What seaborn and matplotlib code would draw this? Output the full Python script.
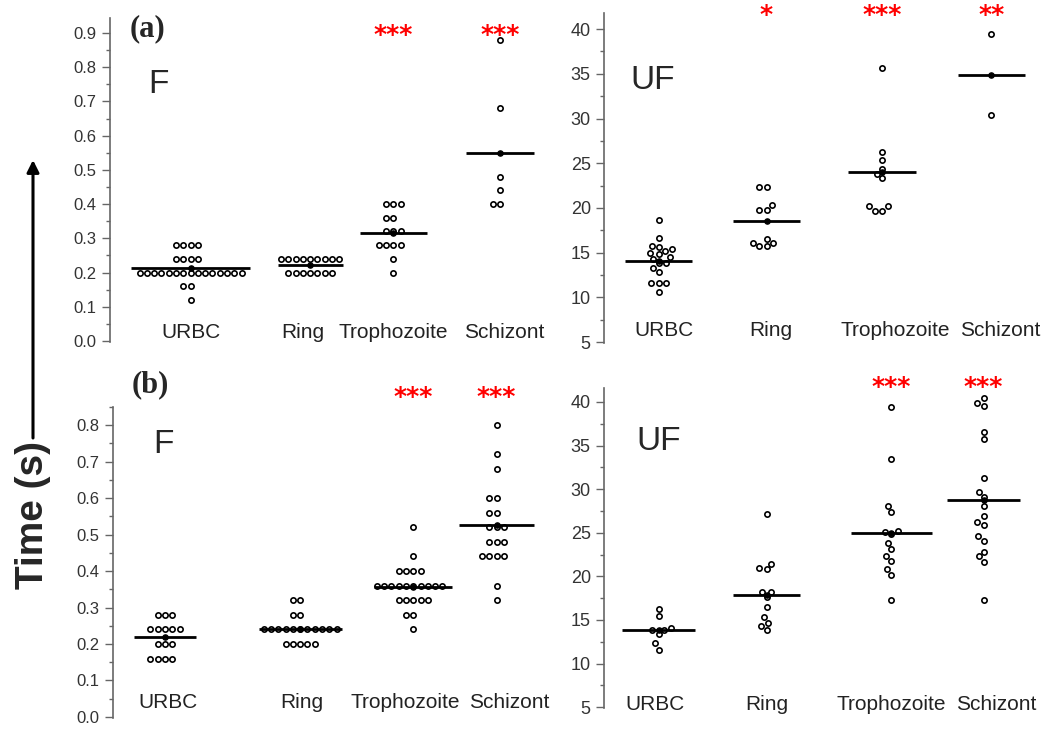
import numpy as np
import pandas as pd
import seaborn as sns
import matplotlib.pyplot as plt
from matplotlib.ticker import MultipleLocator, FormatStrFormatter

sns.set_theme(style="ticks")
plt.rcParams["font.family"] = ["Liberation Sans", "DejaVu Sans"]

W, H = 1041, 730

stages = ["URBC", "Ring", "Trophozoite", "Schizont"]

# (a) F, time in s
a_f_urbc = [0.28, 0.28, 0.28, 0.28, 0.24, 0.24, 0.24, 0.24,
            0.20, 0.20, 0.20, 0.20, 0.20, 0.20, 0.20, 0.20, 0.20, 0.20,
            0.20, 0.20, 0.20, 0.20, 0.20, 0.16, 0.16, 0.12]
a_f_ring = [0.24, 0.24, 0.24, 0.24, 0.24, 0.24, 0.24, 0.24, 0.24,
            0.20, 0.20, 0.20, 0.20, 0.20, 0.20, 0.20]
a_f_troph = [0.40, 0.40, 0.40, 0.36, 0.36, 0.32, 0.32, 0.32,
             0.28, 0.28, 0.28, 0.28, 0.24, 0.20]
a_f_schiz = [0.88, 0.68, 0.48, 0.44, 0.40, 0.40]
a_f_center = [0.212, 0.222, 0.316, 0.548]
a_f_stars = ["", "", "***", "***"]

# (a) UF
a_uf_urbc = [18.7, 16.6, 15.8, 15.6, 15.4, 15.2, 15.0, 14.8, 14.5, 14.3,
             13.9, 13.8, 13.3, 12.8, 11.6, 11.6, 11.6, 10.6]
a_uf_ring = [22.3, 22.3, 20.3, 19.8, 19.8, 16.5, 16.1, 16.1, 15.7, 15.7]
a_uf_troph = [35.7, 26.3, 25.4, 24.4, 23.8, 23.3, 20.2, 20.2, 19.7, 19.7]
a_uf_schiz = [39.5, 30.4]
a_uf_center = [14.1, 18.5, 24.0, 34.9]
a_uf_stars = ["", "*", "***", "**"]

# (b) F
b_f_urbc = [0.28, 0.28, 0.28, 0.24, 0.24, 0.24, 0.24, 0.24,
            0.20, 0.20, 0.20, 0.16, 0.16, 0.16, 0.16]
b_f_ring = [0.32, 0.32, 0.28, 0.28, 0.24, 0.24, 0.24, 0.24, 0.24, 0.24,
            0.24, 0.24, 0.24, 0.24, 0.24, 0.20, 0.20, 0.20, 0.20, 0.20]
b_f_troph = [0.52, 0.44, 0.40, 0.40, 0.40, 0.40, 0.36, 0.36, 0.36, 0.36,
             0.36, 0.36, 0.36, 0.36, 0.36, 0.36, 0.32, 0.32, 0.32, 0.32,
             0.32, 0.28, 0.28, 0.24]
b_f_schiz = [0.80, 0.72, 0.68, 0.60, 0.60, 0.56, 0.56, 0.52, 0.52, 0.52,
             0.48, 0.48, 0.48, 0.44, 0.44, 0.44, 0.44, 0.36, 0.32]
b_f_center = [0.219, 0.242, 0.357, 0.526]
b_f_stars = ["", "", "***", "***"]

# (b) UF
b_uf_urbc = [16.3, 15.5, 14.1, 13.9, 13.8, 13.4, 12.3, 11.6]
b_uf_ring = [27.1, 21.4, 20.9, 20.8, 18.2, 18.2, 17.6, 16.5, 15.3, 14.6,
             14.3, 13.8]
b_uf_troph = [39.4, 33.4, 28.1, 27.4, 25.2, 25.1, 24.8, 23.8, 23.1, 22.3,
              21.8, 20.8, 20.2, 17.3]
b_uf_schiz = [40.4, 39.9, 39.5, 36.6, 35.7, 31.3, 29.7, 29.1, 28.1, 26.9,
              26.2, 25.9, 24.6, 24.1, 22.8, 22.3, 21.7, 17.3]
b_uf_center = [13.9, 17.9, 25.0, 28.8]
b_uf_stars = ["", "", "***", "***"]

PX = 130.0  # pixels per x unit


def to_frame(groups):
    rows = []
    for st, vals in zip(stages, groups):
        rows += [(st, v) for v in vals]
    return pd.DataFrame(rows, columns=["stage", "time"])


def draw_panel(ax, groups, centers, stars, cfg):
    df = to_frame(groups)
    df["x"] = df["stage"].map(dict(zip(stages, cfg["pos"])))
    for st, sub in df.groupby("stage", sort=False):
        sns.swarmplot(data=sub, x="x", y="time", native_scale=True, orient="x",
                      ax=ax, size=3.8, color="white", edgecolor="black",
                      linewidth=1.2, warn_thresh=1)
    pos = np.array(cfg["pos"])
    half = np.array(cfg["half"])
    ax.hlines(centers, pos - half, pos + half, colors="black", lw=2, zorder=3)
    ax.scatter(pos, centers, s=14, color="black", zorder=4)

    ax.set_xlim(0, cfg["width"] / PX)
    ax.set_ylim(*cfg["ylim"])
    ax.set_xlabel("")
    ax.set_ylabel("")
    ax.set_xticks(cfg["lab"], stages)
    ax.tick_params(axis="x", length=0, pad=cfg["pad"], labelsize=15,
                   labelcolor="#222222")
    ax.yaxis.set_major_locator(MultipleLocator(cfg["major"]))
    ax.yaxis.set_minor_locator(MultipleLocator(cfg["major"] / 2))
    if cfg["fmt"]:
        ax.yaxis.set_major_formatter(FormatStrFormatter(cfg["fmt"]))
    ax.tick_params(axis="y", which="major", length=6, width=1, color="#666666",
                   labelsize=cfg["ysize"], labelcolor="#333333")
    ax.tick_params(axis="y", which="minor", length=3, width=1, color="#666666")
    sns.despine(ax=ax, bottom=True)
    ax.spines["left"].set_color("#666666")
    ax.spines["left"].set_linewidth(1.2)
    ax.set_facecolor("white")

    for p, s in zip(pos, stars):
        ax.text(p, cfg["star_y"], s, transform=ax.get_xaxis_transform(),
                ha="center", va="baseline", color="red", fontsize=18,
                fontweight="bold", family="DejaVu Sans", clip_on=False)


def px_box(left, top, right, bottom):
    return [left / W, 1 - bottom / H, (right - left) / W, (bottom - top) / H]


fig = plt.figure(figsize=(W / 100, H / 100), dpi=100)
fig.patch.set_facecolor("white")

panels = [
    (px_box(110, 18, 550, 342), [a_f_urbc, a_f_ring, a_f_troph, a_f_schiz],
     a_f_center, a_f_stars,
     dict(pos=[0.62, 1.54, 2.18, 3.0], lab=[0.62, 1.48, 2.18, 3.03],
          half=[0.46, 0.25, 0.26, 0.26],
          width=440, ylim=(-0.003, 0.944), major=0.1, fmt="%.1f", ysize=12,
          pad=-14, star_y=0.926)),
    (px_box(604, 13, 1035, 343), [a_uf_urbc, a_uf_ring, a_uf_troph, a_uf_schiz],
     a_uf_center, a_uf_stars,
     dict(pos=[0.42, 1.25, 2.14, 2.98], lab=[0.46, 1.28, 2.24, 3.05],
          half=[0.26, 0.26, 0.26, 0.26],
          width=431, ylim=(4.9, 41.8), major=5, fmt=None, ysize=13,
          pad=-16, star_y=0.972)),
    (px_box(113, 407, 555, 718), [b_f_urbc, b_f_ring, b_f_troph, b_f_schiz],
     b_f_center, b_f_stars,
     dict(pos=[0.40, 1.44, 2.31, 2.95], lab=[0.42, 1.45, 2.25, 3.05],
          half=[0.24, 0.32, 0.30, 0.29],
          width=442, ylim=(-0.003, 0.85), major=0.1, fmt="%.1f", ysize=12,
          pad=-18, star_y=1.01)),
    (px_box(604, 388, 1035, 708), [b_uf_urbc, b_uf_ring, b_uf_troph, b_uf_schiz],
     b_uf_center, b_uf_stars,
     dict(pos=[0.42, 1.25, 2.21, 2.92], lab=[0.39, 1.25, 2.21, 3.02],
          half=[0.28, 0.26, 0.31, 0.28],
          width=431, ylim=(4.9, 41.6), major=5, fmt=None, ysize=13,
          pad=-9, star_y=0.98)),
]

for box, groups, centers, stars, cfg in panels:
    ax = fig.add_axes(box)
    draw_panel(ax, groups, centers, stars, cfg)

# panel tags and condition labels
fig.text(130 / W, 1 - 29 / H, "(a)", ha="left", va="center",
         family="Liberation Serif", fontweight="bold", fontsize=22)
fig.text(132 / W, 1 - 385 / H, "(b)", ha="left", va="center",
         family="Liberation Serif", fontweight="bold", fontsize=22)
for x, y, s in [(148, 93, "F"), (630, 89, "UF"), (153, 453, "F"), (636, 450, "UF")]:
    fig.text(x / W, 1 - y / H, s, ha="left", va="baseline", fontsize=24)

fig.text(33 / W, 1 - 515 / H, "Time (s)", rotation=90, ha="center", va="center",
         fontsize=28, fontweight="bold")
fig.add_artist(plt.Annotation("", xy=(33 / W, 1 - 160 / H), xycoords="figure fraction",
                              xytext=(33 / W, 1 - 438 / H), textcoords="figure fraction",
                              arrowprops=dict(arrowstyle="-|>", lw=2.2, color="black",
                                              mutation_scale=18, shrinkA=0, shrinkB=0)))

fig.savefig("out.png", dpi=100)
